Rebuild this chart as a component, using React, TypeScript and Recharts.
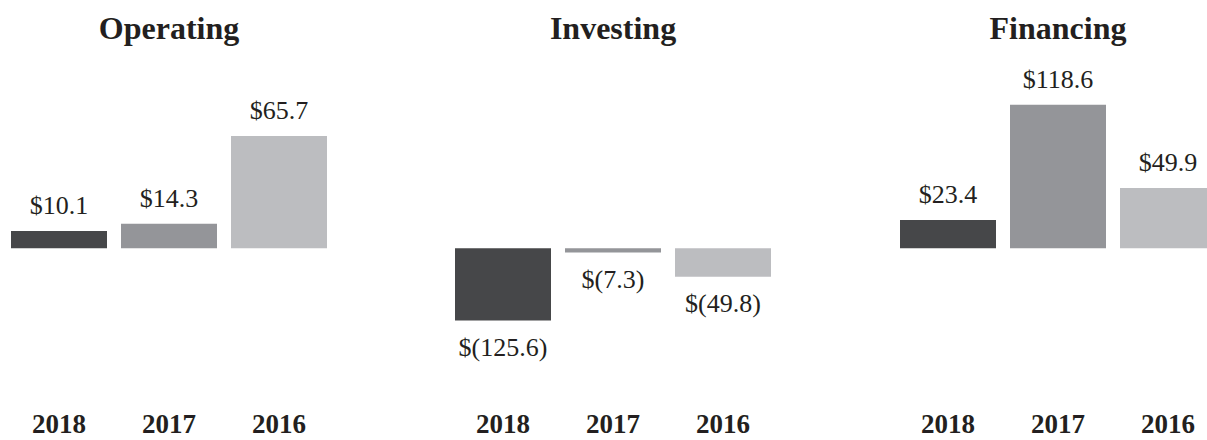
import { Bar, BarChart, Cell, LabelList, XAxis, YAxis } from "recharts"

const years = ["2018", "2017", "2016"]
const operating = [10.1, 14.3, 65.7]
const investing = [-125.6, -7.3, -49.8]
const financing = [23.4, 118.6, 49.9]

const barColors = ["#464749", "#949599", "#bcbdc0"]
const ink = "#231f20"
const serif = "'Liberation Serif', 'Times New Roman', serif"

function money(v: number) {
  return v < 0 ? `$(${Math.abs(v).toFixed(1)})` : `$${v.toFixed(1)}`
}

function Panel({
  title,
  values,
  domain,
  left,
}: {
  title: string
  values: number[]
  domain: [number, number]
  left: number
}) {
  const data = years.map((year, i) => ({ year, value: values[i] }))
  return (
    <div style={{ position: "absolute", left, top: 0, width: 330, height: 440 }}>
      <div
        style={{
          position: "absolute",
          top: 12,
          left: 0,
          width: 330,
          textAlign: "center",
          fontFamily: serif,
          fontWeight: 700,
          fontSize: 32,
          lineHeight: "32px",
          color: ink,
        }}
      >
        {title}
      </div>
      <BarChart
        width={330}
        height={440}
        data={data}
        margin={{ top: 60, right: 0, bottom: 10, left: 0 }}
      >
        <XAxis
          dataKey="year"
          axisLine={false}
          tickLine={false}
          height={30}
          tickMargin={8}
          tick={{ fontSize: 27, fontWeight: 700, fill: ink, fontFamily: serif }}
        />
        <YAxis hide domain={domain} allowDataOverflow />
        <Bar dataKey="value" barSize={96} isAnimationActive={false}>
          {data.map((d, i) => (
            <Cell key={d.year} fill={barColors[i]} />
          ))}
          <LabelList
            dataKey="value"
            position="top"
            offset={17}
            formatter={(v: any) => money(Number(v))}
            fill={ink}
            fontSize={26}
            fontFamily={serif}
          />
        </Bar>
      </BarChart>
    </div>
  )
}

export default function App() {
  return (
    <div
      style={{
        position: "absolute",
        left: 0,
        top: 0,
        width: 1207,
        height: 440,
        overflow: "hidden",
        background: "#fff",
      }}
    >
      <Panel title="Operating" values={operating} domain={[-88.7, 110.1]} left={4} />
      <Panel title="Investing" values={investing} domain={[-264.3, 328]} left={448} />
      <Panel title="Financing" values={financing} domain={[-125.4, 155.6]} left={893} />
    </div>
  )
}
